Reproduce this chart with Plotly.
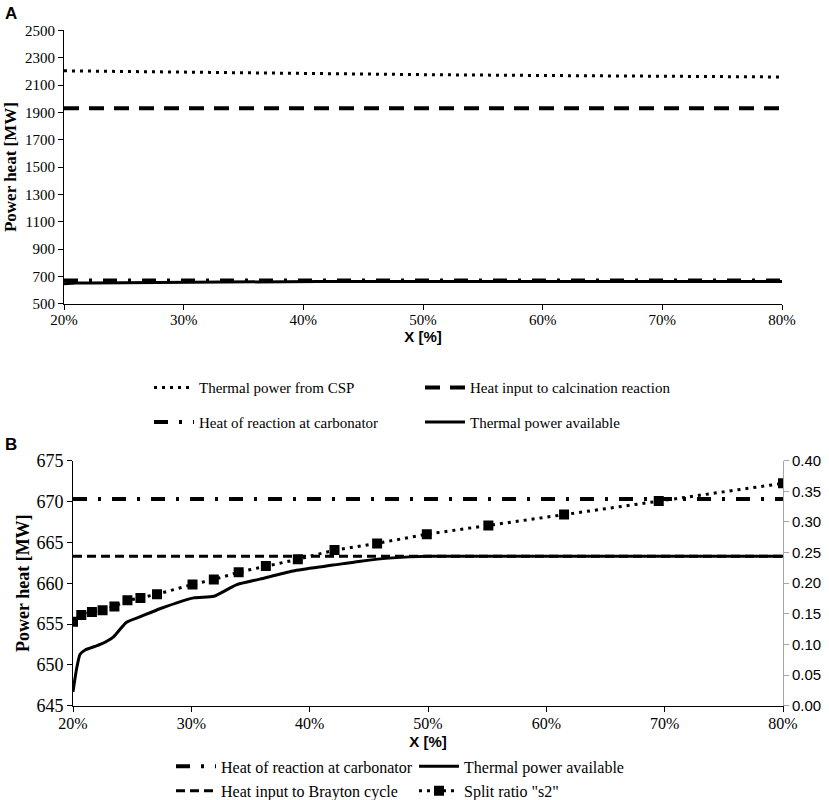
import plotly.graph_objects as go

# X = conversion [%] (as fraction for % tick format)
x_ends = [0.20, 0.80]

# Panel A
x_csp = [0.20, 0.30, 0.40, 0.50, 0.60, 0.70, 0.80]
csp_power = [2204, 2193, 2184, 2176, 2170, 2164, 2159]
calcination_heat = [1930, 1930]
carbonator_heat = [670.3, 670.3]

# thermal power available (both panels)
x_avail = [0.200, 0.203, 0.206, 0.210, 0.223, 0.234, 0.245, 0.257, 0.274, 0.302,
           0.319, 0.338, 0.358, 0.386, 0.414, 0.443, 0.470, 0.500, 0.550, 0.600,
           0.700, 0.800]
avail_power = [646.7, 649.5, 651.3, 651.8, 652.5, 653.4, 655.2, 655.9, 656.9, 658.2,
               658.4, 659.8, 660.5, 661.5, 662.1, 662.7, 663.1, 663.3, 663.3, 663.3,
               663.3, 663.3]

# Panel B
brayton_heat = [663.3, 663.3]
x_s2 = [0.200, 0.207, 0.216, 0.225, 0.235, 0.246, 0.257, 0.271, 0.301, 0.319,
        0.340, 0.363, 0.390, 0.421, 0.457, 0.499, 0.551, 0.615, 0.695, 0.800]
split_s2 = [0.137, 0.148, 0.153, 0.156, 0.162, 0.172, 0.176, 0.182, 0.198, 0.206,
            0.218, 0.228, 0.239, 0.254, 0.265, 0.280, 0.294, 0.312, 0.334, 0.363]

serif = "Liberation Serif"
sans = "Liberation Sans"
W, H = 829, 810


def px(x):
    return x / W


def py(y):
    # layout positions given in target-picture pixels (800 tall)
    return 1 - y / 800


fig = go.Figure()

# ---- panel A ----
fig.add_trace(go.Scatter(x=x_csp, y=csp_power, mode="lines", name="Thermal power from CSP",
                         line=dict(color="black", width=3, dash="3px,5px"),
                         xaxis="x", yaxis="y", legend="legend"))
fig.add_trace(go.Scatter(x=x_ends, y=calcination_heat, mode="lines",
                         name="Heat input to calcination reaction",
                         line=dict(color="black", width=4, dash="15px,10px"),
                         xaxis="x", yaxis="y", legend="legend"))
fig.add_trace(go.Scatter(x=x_ends, y=carbonator_heat, mode="lines",
                         name="Heat of reaction at carbonator",
                         line=dict(color="black", width=4, dash="14px,11px,3px,11px"),
                         xaxis="x", yaxis="y", legend="legend2"))
fig.add_trace(go.Scatter(x=x_avail, y=avail_power, mode="lines", name="Thermal power available",
                         line=dict(color="black", width=3),
                         xaxis="x", yaxis="y", legend="legend2"))

# ---- panel B ----
fig.add_trace(go.Scatter(x=x_ends, y=carbonator_heat, mode="lines",
                         name="Heat of reaction at carbonator",
                         line=dict(color="black", width=4, dash="14px,11px,3px,11px"),
                         xaxis="x2", yaxis="y2", legend="legend3"))
fig.add_trace(go.Scatter(x=x_avail, y=avail_power, mode="lines", name="Thermal power available",
                         line=dict(color="black", width=3, shape="spline", smoothing=0.6),
                         xaxis="x2", yaxis="y2", legend="legend3"))
fig.add_trace(go.Scatter(x=x_ends, y=brayton_heat, mode="lines",
                         name="Heat input to Brayton cycle",
                         line=dict(color="black", width=3, dash="9px,5px"),
                         xaxis="x2", yaxis="y2", legend="legend4"))
fig.add_trace(go.Scatter(x=x_s2, y=split_s2, mode="lines+markers", name='Split ratio "s2"',
                         line=dict(color="black", width=3, dash="3px,5px"),
                         marker=dict(symbol="square", size=10, color="black"),
                         xaxis="x2", yaxis="y3", legend="legend4"))


def axis_style(size):
    return dict(showline=True, linecolor="black", linewidth=1, ticks="outside",
                ticklen=5, tickcolor="black", showgrid=False, zeroline=False,
                automargin=False,
                tickfont=dict(family=serif, size=size, color="black"))


def xtitle(standoff):
    return dict(text="<b>X [%]</b>", font=dict(family=sans, size=15, color="black"),
                standoff=standoff)


def ytitle(standoff, size):
    return dict(text="<b>Power heat [MW]</b>", font=dict(family=serif, size=size, color="black"),
                standoff=standoff)


def legend_style(x, y, width, size):
    return dict(x=px(x), y=py(y), orientation="h", xanchor="left", yanchor="middle",
                entrywidth=width, entrywidthmode="pixels", itemwidth=40,
                font=dict(family=serif, size=size, color="black"),
                bgcolor="rgba(0,0,0,0)", tracegroupgap=0, traceorder="normal")


x_ticks = [0.2, 0.3, 0.4, 0.5, 0.6, 0.7, 0.8]

fig.update_layout(
    width=W, height=H,
    margin=dict(l=0, r=0, t=0, b=0),
    plot_bgcolor="white", paper_bgcolor="white",
    xaxis=dict(domain=[px(64), px(782)], anchor="y", range=[0.2, 0.8],
               tickvals=x_ticks, tickformat=".0%", ticklabelstandoff=-3,
               title=xtitle(0), **axis_style(15)),
    yaxis=dict(domain=[py(300), py(30)], anchor="x", range=[500, 2500],
               tickvals=list(range(500, 2501, 200)), title=ytitle(4, 17), **axis_style(15)),
    xaxis2=dict(domain=[px(73), px(783)], anchor="y2", range=[0.2, 0.8],
                tickvals=x_ticks, tickformat=".0%", ticklabelstandoff=-2,
                title=xtitle(5), **axis_style(16)),
    yaxis2=dict(domain=[py(697), py(455)], anchor="x2", range=[645, 675],
                tickvals=list(range(645, 676, 5)), title=ytitle(2, 18), **axis_style(18)),
    yaxis3=dict(overlaying="y2", anchor="x2", side="right", range=[0, 0.4],
                tickvals=[0, 0.05, 0.1, 0.15, 0.2, 0.25, 0.3, 0.35, 0.4], tickformat=".2f",
                showline=True, linecolor="#a6a6a6", linewidth=1, ticks="outside", ticklen=5,
                tickcolor="#a6a6a6", showgrid=False, zeroline=False, automargin=False,
                tickfont=dict(family=sans, size=15, color="black")),
    legend=legend_style(149, 383, 216, 15),
    legend2=legend_style(149, 417, 216, 15),
    legend3=legend_style(171, 757, 188, 16),
    legend4=legend_style(171, 781, 188, 16),
    annotations=[
        dict(text="<b>A</b>", x=px(3), y=py(2), xref="paper", yref="paper",
             xanchor="left", yanchor="top", showarrow=False,
             font=dict(family=sans, size=17, color="black")),
        dict(text="<b>B</b>", x=px(3), y=py(428), xref="paper", yref="paper",
             xanchor="left", yanchor="top", showarrow=False,
             font=dict(family=sans, size=17, color="black")),
    ],
)

# drop the default page margin so the figure fills the window exactly
page_fix = ("for (const el of [document.documentElement, document.body]) {"
            "el.style.margin='0px'; el.style.padding='0px'; el.style.overflow='hidden'; }")
fig.write_html("out.html", config={"displayModeBar": False}, post_script=page_fix)
